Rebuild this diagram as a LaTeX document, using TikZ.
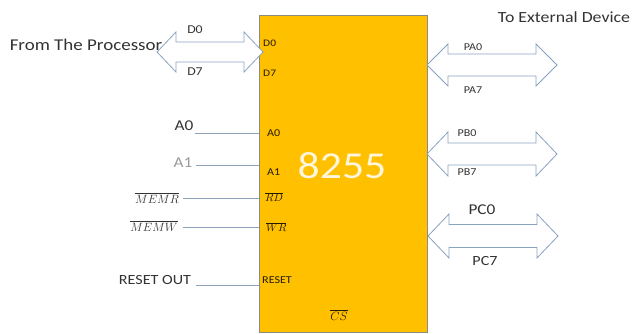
\documentclass[tikz,border=0pt]{standalone}
\usepackage{fontspec}
\usepackage{graphicx}
\setmainfont{Carlito}
\definecolor{chipfill}{HTML}{FFC000}
\definecolor{chipedge}{HTML}{8F8A80}
\definecolor{pintext}{HTML}{241C00}
\definecolor{outtext}{HTML}{333333}
\definecolor{greytext}{HTML}{9A9A9A}
\definecolor{busedge}{HTML}{8AA2C2}
\definecolor{wirecol}{HTML}{8EA2BC}
\definecolor{chiptitle}{HTML}{FFF6DC}
\newcommand\widetxt[1]{\scalebox{1.15}[1]{#1}}
\newcommand\busarrow[7]{%
  \draw[bus] (#2,#4) -- ({#2+#7},{#4-#5}) -- ({#2+#7},{#4-#6}) -- ({#3-#7},{#4-#6})
    -- ({#3-#7},{#4-#5}) -- (#3,#4) -- ({#3-#7},{#4+#5}) -- ({#3-#7},{#4+#6})
    -- ({#2+#7},{#4+#6}) -- ({#2+#7},{#4+#5}) -- cycle;
  \coordinate (#1w) at (#2,#4);
  \coordinate (#1e) at (#3,#4);
}
\begin{document}
\begin{tikzpicture}[x=1pt,y=-1pt,
  chip/.style={draw=chipedge,fill=chipfill,line width=0.7pt,minimum width=168pt,minimum height=317pt,inner sep=0pt},
  bus/.style={draw=busedge,fill=white,line width=0.8pt,line join=miter},
  wire/.style={draw=wirecol,line width=0.8pt},
  outlbl/.style={text=outtext,inner sep=1pt},
  pinlbl/.style={text=pintext,inner sep=0pt},
  buslbl/.style={text=outtext,inner sep=0pt,font=\fontsize{10.5}{12}\selectfont}]
\useasboundingbox (0,0) rectangle (637,334);
\fill[white] (0,0) rectangle (637,334);
% chip
\node[chip] (chip) at (343,173.5) {};
% bus arrows
\busarrow{bd}{157}{263}{52}{20}{10}{19}
\busarrow{bpa}{427}{557}{65}{21}{11}{21}
\busarrow{bpb}{427}{557}{154}{22}{11}{21}
\busarrow{bpc}{428}{558}{236}{22}{11.5}{21}
% chip title
\node[text=chiptitle,inner sep=0pt,font=\fontsize{38}{40}\selectfont] (title) at (342,166) {\widetxt{8255}};
% pin labels inside the chip
\node[pinlbl,anchor=west,font=\fontsize{10}{12}\selectfont] (pD0) at (263,43) {\widetxt{D0}};
\node[pinlbl,anchor=west,font=\fontsize{10}{12}\selectfont] (pD7) at (263,73) {\widetxt{D7}};
\node[pinlbl,anchor=west,font=\fontsize{10.5}{12}\selectfont] (pA0) at (267,133) {\widetxt{A0}};
\node[pinlbl,anchor=west,font=\fontsize{10.5}{12}\selectfont] (pA1) at (267,172) {\widetxt{A1}};
\node[pinlbl,anchor=west,font=\fontsize{11}{12}\selectfont] (pRD) at (265,197) {$\overline{RD}$};
\node[pinlbl,anchor=west,font=\fontsize{11}{12}\selectfont] (pWR) at (266,227) {$\overline{WR}$};
\node[pinlbl,anchor=west,font=\fontsize{10.5}{12}\selectfont] (pRST) at (262,280) {\widetxt{RESET}};
\node[pinlbl,font=\fontsize{13}{14}\selectfont] (pCS) at (339,315) {$\overline{CS}$};
% bus labels
\node[buslbl,font=\fontsize{12}{14}\selectfont] (lD0) at (195,30) {\widetxt{D0}};
\node[buslbl,font=\fontsize{12}{14}\selectfont] (lD7) at (195,72) {\widetxt{D7}};
\node[buslbl] (lPA0) at (473,47) {\widetxt{PA0}};
\node[buslbl] (lPA7) at (473,90) {\widetxt{PA7}};
\node[buslbl] (lPB0) at (467,133) {\widetxt{PB0}};
\node[buslbl] (lPB7) at (467,172) {\widetxt{PB7}};
\node[buslbl,font=\fontsize{15}{16}\selectfont] (lPC0) at (482,210) {\widetxt{PC0}};
\node[buslbl,font=\fontsize{14}{16}\selectfont] (lPC7) at (485,261) {\widetxt{PC7}};
% headings
\node[outlbl,font=\fontsize{16.5}{18}\selectfont] (from) at (86,45) {\widetxt{From The Processor}};
\node[outlbl,font=\fontsize{15.5}{18}\selectfont] (to) at (564,17) {\widetxt{To External Device}};
% signal labels outside
\node[outlbl,font=\fontsize{15}{16}\selectfont] (sA0) at (184,126) {\widetxt{A0}};
\node[outlbl,text=greytext,font=\fontsize{15}{16}\selectfont] (sA1) at (183,163) {\widetxt{A1}};
\node[outlbl,font=\fontsize{13}{14}\selectfont] (sMR) at (157,198) {$\overline{MEMR}$};
\node[outlbl,font=\fontsize{13}{14}\selectfont] (sMW) at (154,226) {$\overline{MEMW}$};
\node[outlbl,font=\fontsize{14}{16}\selectfont] (sRST) at (155,280) {\widetxt{RESET OUT}};
% wires
\coordinate (cA0) at (chip.west |- 0,133);
\coordinate (cA1) at (chip.west |- 0,165);
\coordinate (cRD) at (chip.west |- 0,198);
\coordinate (cWR) at (chip.west |- 0,227);
\coordinate (cRST) at (chip.west |- 0,285);
\draw[wire] (sA0.east |- cA0) -- (cA0);
\draw[wire] ([xshift=2pt]sA1.east |- cA1) -- (cA1);
\draw[wire] ([xshift=3pt]sMR.east |- cRD) -- (cRD);
\draw[wire] ([xshift=4pt]sMW.east |- cWR) -- (cWR);
\draw[wire] ([xshift=4pt]sRST.east |- cRST) -- (cRST);
\end{tikzpicture}
\end{document}
